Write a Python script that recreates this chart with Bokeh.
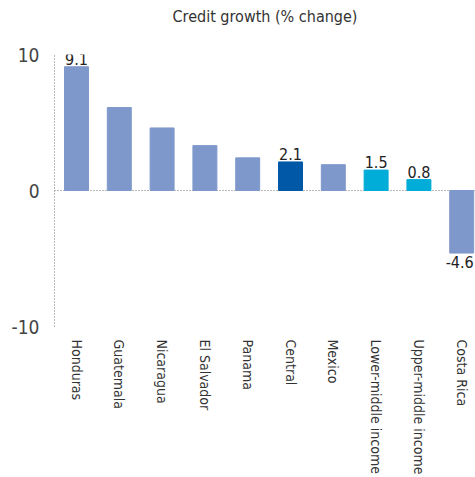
from bokeh.plotting import figure
from bokeh.models import ColumnDataSource, FixedTicker, Title
from bokeh.core.properties import value
from bokeh.embed import file_html
from bokeh.resources import INLINE

categories = ["Honduras", "Guatemala", "Nicaragua", "El Salvador", "Panama",
              "Central", "Mexico", "Lower-middle income", "Upper-middle income", "Costa Rica"]
growth = [9.1, 6.1, 4.6, 3.3, 2.4, 2.1, 1.9, 1.5, 0.8, -4.6]
groups = ["country", "country", "country", "country", "country",
          "region", "country", "income", "income", "country"]
labelled = ["Honduras", "Central", "Lower-middle income", "Upper-middle income", "Costa Rica"]
y_ticks = [-10, 0, 10]
y_tick_labels = ["-10", "0", "10"]
title_text = "Credit growth (% change)"

palette = {"country": "#7f98cb", "region": "#0058a7", "income": "#00acd8"}
FONT = "DejaVu Sans Condensed"

xs = list(range(len(categories)))
src = ColumnDataSource(dict(x=xs, top=growth, color=[palette[g] for g in groups]))

p = figure(width=475, height=477, output_backend="svg", toolbar_location=None,
           x_range=(-0.514, 9.322), y_range=(-10, 10),
           min_border_left=54, min_border_right=0, min_border_top=0)
p.outline_line_color = None
p.background_fill_color = None
p.border_fill_color = None

p.title.text = title_text
p.title.align = "center"
p.title.text_font = FONT
p.title.text_font_style = "normal"
p.title.text_font_size = "16px"
p.title.text_color = "#333333"
p.title.offset = 6
p.title.standoff = 8
p.add_layout(Title(text=" ", text_font_size="1px", standoff=22), "above")

p.vbar(x="x", top="top", bottom=0, width=0.56, color="color", source=src)

lab_idx = [categories.index(c) for c in labelled]
pos = [i for i in lab_idx if growth[i] >= 0]
neg = [i for i in lab_idx if growth[i] < 0]
p.text(x=[xs[i] for i in pos], y=[growth[i] for i in pos],
       text=["%.1f" % growth[i] for i in pos], text_align="center",
       text_baseline="bottom", y_offset=-2, text_font=value(FONT),
       text_font_size="16px", text_color="#222222")
p.text(x=[xs[i] for i in neg], y=[growth[i] for i in neg],
       text=["%.1f" % growth[i] for i in neg], text_align="center",
       text_baseline="top", y_offset=3, x_offset=-2, text_font=value(FONT),
       text_font_size="16px", text_color="#222222")

p.xgrid.visible = False
p.ygrid.ticker = FixedTicker(ticks=y_ticks)
p.ygrid.grid_line_color = "#777777"
p.ygrid.grid_line_dash = "1 2"
p.ygrid.grid_line_width = 1

p.yaxis.ticker = FixedTicker(ticks=y_ticks)
p.yaxis.major_label_overrides = dict(zip(y_ticks, y_tick_labels))
p.yaxis.axis_line_color = "#777777"
p.yaxis.axis_line_dash = "1 2"
p.yaxis.major_tick_line_color = None
p.yaxis.major_tick_out = 0
p.yaxis.major_tick_in = 0
p.yaxis.minor_tick_line_color = None
p.yaxis.major_label_text_font = FONT
p.yaxis.major_label_text_font_size = "19px"
p.yaxis.major_label_text_color = "#444444"
p.yaxis.major_label_standoff = 15

p.xaxis.ticker = FixedTicker(ticks=xs)
p.xaxis.major_label_overrides = {i: c for i, c in zip(xs, categories)}
p.xaxis.major_label_orientation = "vertical"
p.xaxis.axis_line_color = None
p.xaxis.major_tick_line_color = None
p.xaxis.major_tick_out = 0
p.xaxis.major_tick_in = 0
p.xaxis.minor_tick_line_color = None
p.xaxis.major_label_text_font = FONT
p.xaxis.major_label_text_font_size = "14px"
p.xaxis.major_label_text_color = "#333333"
p.xaxis.major_label_standoff = 13

open("out.html", "w").write(file_html(p, INLINE))
